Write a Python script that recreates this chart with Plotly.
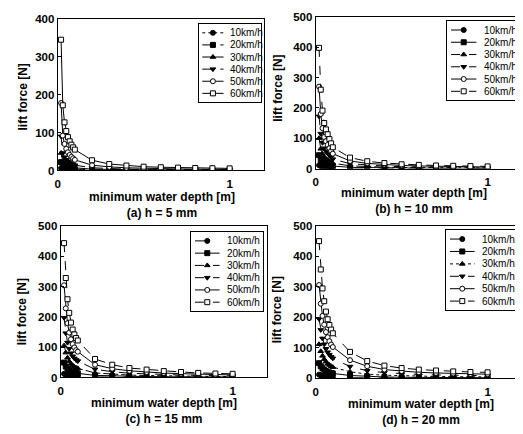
import plotly.graph_objects as go

# water depth points (m), shared by all panels
depth = [0.02, 0.03, 0.04, 0.05, 0.06, 0.07, 0.08, 0.09, 0.1,
         0.2, 0.3, 0.4, 0.5, 0.6, 0.7, 0.8, 0.9, 1.0]

speeds = ['10km/h', '20km/h', '30km/h', '40km/h', '50km/h', '60km/h']

# (a) h = 5 mm
a_10 = [6, 3, 2.2, 1.8, 1.5, 1.3, 1.1, 1, 0.9, 0.45, 0.3, 0.23, 0.18, 0.15, 0.13, 0.11, 0.1, 0.09]
a_20 = [22, 12, 9, 7, 6, 5, 4.5, 4, 3.5, 1.8, 1.2, 0.9, 0.7, 0.6, 0.5, 0.45, 0.4, 0.35]
a_30 = [46, 24, 18, 14, 12, 10, 9, 8, 7, 3.5, 2.4, 1.8, 1.4, 1.2, 1, 0.9, 0.8, 0.7]
a_40 = [90, 46, 35, 28, 24, 20, 18, 16, 14, 7, 4.7, 3.5, 2.8, 2.3, 2, 1.7, 1.6, 1.4]
a_50 = [178, 92, 70, 57, 48, 41, 36, 32, 28, 14, 9.5, 7, 5.6, 4.7, 4, 3.5, 3.1, 2.8]
a_60 = [345, 172, 127, 104, 88, 77, 68, 61, 55, 27, 17, 13, 10, 8.5, 7.5, 6.5, 6, 5.5]

# (b) h = 10 mm
b_10 = [11, 7, 5.3, 4.2, 3.6, 3, 2.7, 2.3, 2, 1, 0.7, 0.5, 0.4, 0.33, 0.28, 0.25, 0.22, 0.2]
b_20 = [44, 29, 21, 17, 14, 12.5, 11, 9, 8, 4, 2.7, 2, 1.6, 1.3, 1.1, 1, 0.9, 0.8]
b_30 = [100, 65, 48, 38, 32, 28, 24, 21, 17.5, 9, 6, 4.5, 3.5, 3, 2.5, 2.2, 2, 1.8]
b_40 = [172, 115, 85, 67, 57, 50, 43, 37, 31, 16, 11, 8, 6.2, 5.3, 4.4, 4, 3.5, 3.1]
b_50 = [270, 180, 133, 104, 90, 78, 67, 58, 49, 25, 17, 13, 10, 8.5, 7, 6, 5.5, 5]
b_60 = [398, 260, 191, 150, 129, 113, 97, 83, 70, 36, 24, 18, 14, 12, 10, 9, 8, 7]

# (c) h = 15 mm
c_10 = [12, 9, 7.2, 5.9, 5, 4.4, 3.9, 3.6, 3.4, 1.7, 1.2, 0.9, 0.7, 0.6, 0.5, 0.42, 0.36, 0.33]
c_20 = [49, 36, 29, 24, 20, 17.5, 15.8, 14.4, 13.5, 6.8, 4.7, 3.4, 2.9, 2.3, 2, 1.7, 1.4, 1.3]
c_30 = [105, 82, 65, 53, 45, 40, 35, 32, 30, 15, 10.5, 7.8, 6.5, 5.2, 4.5, 3.8, 3.3, 3]
c_40 = [197, 146, 115, 95, 80, 70, 63, 58, 54, 27, 19, 14, 11.5, 9.3, 8, 6.7, 5.8, 5.3]
c_50 = [304, 228, 179, 148, 126, 110, 99, 90, 85, 42, 29, 22, 18, 14.6, 12.5, 10.4, 9, 8.3]
c_60 = [443, 328, 258, 213, 181, 158, 142, 130, 122, 61, 42, 31, 26, 21, 18, 15, 13, 12]

# (d) h = 20 mm
d_10 = [12.5, 10, 8.2, 7, 6.1, 5.4, 4.9, 4.4, 4.1, 2.4, 1.6, 1.2, 0.9, 0.8, 0.7, 0.64, 0.58, 0.55]
d_20 = [50, 40, 33, 28, 24, 21.5, 19.4, 17.8, 16.4, 9.7, 6.3, 4.7, 3.8, 3.2, 2.9, 2.6, 2.3, 2.2]
d_30 = [112, 89, 74, 63, 55, 48, 44, 40, 37, 22, 14, 10.5, 8.5, 7.2, 6.5, 5.7, 5.2, 5]
d_40 = [195, 159, 131, 112, 97, 86, 78, 71, 66, 39, 25, 19, 15, 13, 11.5, 10, 9.3, 8.9]
d_50 = [306, 245, 205, 176, 152, 135, 122, 111, 103, 60, 40, 29, 24, 20, 18, 16, 14.6, 13.9]
d_60 = [450, 357, 295, 253, 219, 194, 175, 160, 148, 87, 57, 42, 34, 29, 26, 23, 21, 20]

panel_data = [
    [a_10, a_20, a_30, a_40, a_50, a_60],
    [b_10, b_20, b_30, b_40, b_50, b_60],
    [c_10, c_20, c_30, c_40, c_50, c_60],
    [d_10, d_20, d_30, d_40, d_50, d_60],
]
captions = ['(a) h = 5 mm', '(b) h = 10 mm', '(c) h = 15 mm', '(d) h = 20 mm']
y_max = [400, 500, 500, 500]

# styles
symbols = ['circle', 'square', 'triangle-up', 'triangle-down', 'circle', 'square']
fills = ['black', 'black', 'black', 'black', 'white', 'white']
dashes = [
    ['dot', 'dash', 'solid', 'dash', 'solid', 'solid'],
    ['longdash', 'solid', 'dashdot', 'dash', 'solid', 'dash'],
    ['longdash', 'solid', 'dashdot', 'dash', 'solid', 'dash'],
    ['longdash', 'solid', 'dot', 'dash', 'solid', 'dash'],
]

# the page body has an 8px margin, so the figure is drawn 8px in and 8px smaller
OFF = 8
W, H = 523 - OFF, 434 - OFF
def fx(p):
    return (p - OFF) / W
def fy(p):
    return 1 - (p - OFF) / H

# plot boxes in screen pixels: left, right, top, bottom
boxes = [(55, 263, 13, 169), (315, 523, 11, 167), (58, 266, 226, 382), (315, 523, 226, 383)]
# legend boxes in screen pixels: left, right, top, bottom
legend_boxes = [(197, 260, 18, 99), (447, 522, 15, 97), (189, 262, 232, 314), (446, 519, 230, 313)]
# x-title block: center x, center y (title line + caption line)
xtitle_pos = [(160, 205), (414, 200), (162, 417), (421, 418)]
# y-title center x, y
ytitle_pos = [(20, 93), (277, 84), (19, 314), (277, 312)]

bold = dict(family='Liberation Sans, Arial', size=12, color='black', weight='bold')
tickf = dict(family='Liberation Sans, Arial', size=11.5, color='black', weight='bold')
plain = dict(family='Liberation Sans, Arial', size=10, color='black')

fig = go.Figure()
layout = dict(
    width=W, height=H,
    margin=dict(l=0, r=0, t=0, b=0),
    paper_bgcolor='white', plot_bgcolor='white',
    showlegend=False,
    annotations=[],
)

for p in range(4):
    n = p + 1
    xa, ya = ('x', 'y') if n == 1 else ('x%d' % n, 'y%d' % n)
    ln = n + 4
    lxa, lya = 'x%d' % ln, 'y%d' % ln

    # data curves
    for s in range(6):
        fig.add_trace(go.Scatter(
            x=depth, y=panel_data[p][s], name=speeds[s],
            xaxis=xa, yaxis=ya, mode='lines+markers',
            line=dict(color='black', width=1, dash=dashes[p][s]),
            marker=dict(symbol=symbols[s], size=5, color=fills[s],
                        line=dict(color='black', width=1)),
        ))

    l, r, t, b = boxes[p]
    layout['xaxis' if n == 1 else 'xaxis%d' % n] = dict(
        domain=[max(fx(l), 0), min(fx(r), 1)], anchor=ya, range=[0, 1.2],
        tickvals=[0, 1], ticktext=['0', '1'], showgrid=False, zeroline=False,
        showline=True, mirror=True, linecolor='black', linewidth=1,
        ticks='outside', ticklen=3, tickcolor='rgba(0,0,0,0)', tickfont=tickf,
    )
    layout['yaxis' if n == 1 else 'yaxis%d' % n] = dict(
        domain=[fy(b), fy(t)], anchor=xa, range=[0, y_max[p]], dtick=100,
        showgrid=False, zeroline=False, showline=True, mirror=True,
        linecolor='black', linewidth=1, ticks='inside', ticklen=3,
        tickcolor='black', tickfont=tickf,
    )

    # legend, drawn in its own small framed axes
    gl, gr, gt, gb = legend_boxes[p]
    frame = dict(showline=True, mirror=True, linecolor='black', linewidth=1,
                 showgrid=False, zeroline=False, showticklabels=False, ticks='',
                 fixedrange=True)
    layout['xaxis%d' % ln] = dict(domain=[fx(gl), min(fx(gr), 1)], anchor=lya,
                                  range=[0, 1], **frame)
    layout['yaxis%d' % ln] = dict(domain=[fy(gb), fy(gt)], anchor=lxa,
                                  range=[6.75, 0.25], **frame)
    for s in range(6):
        row = s + 1
        fig.add_trace(go.Scatter(
            x=[0.06, 0.40], y=[row, row], xaxis=lxa, yaxis=lya, mode='lines',
            line=dict(color='black', width=1, dash=dashes[p][s]), hoverinfo='skip'))
        fig.add_trace(go.Scatter(
            x=[0.23], y=[row], xaxis=lxa, yaxis=lya, mode='markers',
            marker=dict(symbol=symbols[s], size=5, color=fills[s],
                        line=dict(color='black', width=1)), hoverinfo='skip'))
        layout['annotations'].append(dict(
            text=speeds[s], x=0.47, y=row, xref=lxa, yref=lya, showarrow=False,
            xanchor='left', yanchor='middle', font=plain))

    cx, cy = xtitle_pos[p]
    layout['annotations'].append(dict(
        text='minimum water depth [m]<br>%s' % captions[p], x=fx(cx), y=fy(cy),
        xref='paper', yref='paper', showarrow=False, font=bold, align='center',
        xanchor='center', yanchor='middle'))
    yx, yy = ytitle_pos[p]
    layout['annotations'].append(dict(
        text='lift force [N]', x=fx(yx), y=fy(yy), textangle=-90,
        xref='paper', yref='paper', showarrow=False, font=bold,
        xanchor='center', yanchor='middle'))

fig.update_layout(layout)
fig.write_html('out.html')
